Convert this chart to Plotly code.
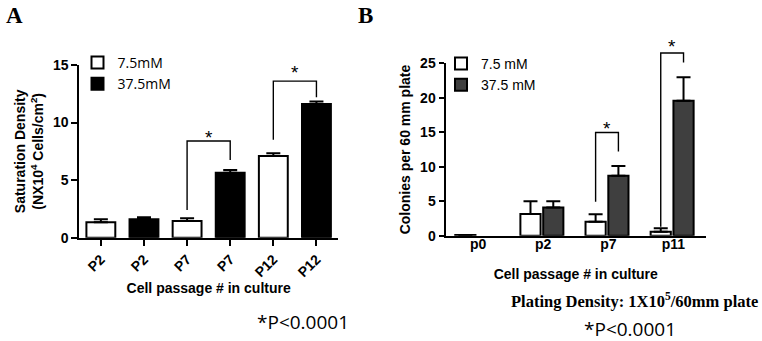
import plotly.graph_objects as go

# ---------------- Data ----------------
# Panel A: saturation density (N x 10^4 cells/cm^2)
a_positions = [0, 1, 2, 3, 4, 5]
a_ticktext = ["P2", "P2", "P7", "P7", "P12", "P12"]
a_low_x = [0, 2, 4]
a_low_vals = [1.34, 1.45, 7.10]
a_low_err = [0.26, 0.23, 0.23]
a_high_x = [1, 3, 5]
a_high_vals = [1.60, 5.65, 11.62]
a_high_err = [0.17, 0.23, 0.20]
# significance brackets (left bar, right bar, left foot, top, right foot, star height)
a_brackets = [(2, 3, 2.4, 8.4, 6.75, 8.92), (4, 5, 8.5, 13.6, 12.2, 14.55)]

# Panel B: colonies per 60 mm plate
b_categories = ["p0", "p2", "p7", "p11"]
b_low_vals = [0.1, 3.15, 2.03, 0.58]
b_low_err = [None, 1.85, 1.07, 0.49]
b_high_vals = [None, 4.10, 8.70, 19.58]
b_high_err = [None, 0.90, 1.40, 3.39]
# brackets (group index, left foot, top, right foot, star height)
b_brackets = [(2, 4.93, 14.97, 12.2, 15.8), (3, 1.3, 26.5, 25.1, 27.7)]

# ---------------- Styling constants ----------------
W, H = 762, 341
SANS = "Liberation Sans, Arial, sans-serif"
SERIF = "Liberation Serif, Times New Roman, serif"
CAL = "Open Sans, Lato, sans-serif"
B_WIDTH = 0.31
B_OFF_LOW = -0.35
B_OFF_HIGH = 0.0
B_DARK = "#3f3f3f"
STAR_SHIFT = -2


def px_x(p):
    return p / W


def px_y(p):
    return 1 - p / H


fig = go.Figure()

# ---- Panel A bars ----
fig.add_trace(go.Bar(
    x=a_low_x, y=a_low_vals, width=0.67, name="7.5mM",
    marker=dict(color="white", line=dict(color="black", width=2)),
    error_y=dict(type="data", symmetric=False, array=a_low_err,
                 arrayminus=[0] * len(a_low_err), color="black", thickness=2, width=7),
    xaxis="x", yaxis="y", legend="legend"))
fig.add_trace(go.Bar(
    x=a_high_x, y=a_high_vals, width=0.67, name="37.5mM",
    marker=dict(color="black", line=dict(color="black", width=2)),
    error_y=dict(type="data", symmetric=False, array=a_high_err,
                 arrayminus=[0] * len(a_high_err), color="black", thickness=2, width=7),
    xaxis="x", yaxis="y", legend="legend"))

for (xl, xr, yl, yt, yr, ys) in a_brackets:
    fig.add_trace(go.Scatter(x=[xl, xl, xr, xr], y=[yl, yt, yt, yr], mode="lines",
                             line=dict(color="black", width=1.4), showlegend=False,
                             hoverinfo="skip", xaxis="x", yaxis="y"))
    fig.add_annotation(x=(xl + xr) / 2, y=ys, xref="x", yref="y", text="*",
                       showarrow=False, yshift=STAR_SHIFT, xanchor="center", yanchor="middle",
                       font=dict(family=SANS, size=19, color="black"))

# ---- Panel B bars ----
b_idx = list(range(len(b_categories)))
fig.add_trace(go.Bar(
    x=b_idx, y=b_low_vals, width=B_WIDTH, offset=B_OFF_LOW, name="7.5 mM",
    marker=dict(color="white", line=dict(color="black", width=2)),
    error_y=dict(type="data", symmetric=False, array=b_low_err,
                 arrayminus=[0] * len(b_low_err), color="black", thickness=2, width=7),
    xaxis="x2", yaxis="y2", legend="legend2"))
fig.add_trace(go.Bar(
    x=b_idx, y=b_high_vals, width=B_WIDTH, offset=B_OFF_HIGH, name="37.5 mM",
    marker=dict(color=B_DARK, line=dict(color="black", width=2)),
    error_y=dict(type="data", symmetric=False, array=b_high_err,
                 arrayminus=[0] * len(b_high_err), color="black", thickness=2, width=7),
    xaxis="x2", yaxis="y2", legend="legend2"))

c_low = B_OFF_LOW + B_WIDTH / 2
c_high = B_OFF_HIGH + B_WIDTH / 2
for (g, yl, yt, yr, ys) in b_brackets:
    xl, xr = g + c_low, g + c_high
    fig.add_trace(go.Scatter(x=[xl, xl, xr, xr], y=[yl, yt, yt, yr], mode="lines",
                             line=dict(color="black", width=1.4), showlegend=False,
                             hoverinfo="skip", xaxis="x3", yaxis="y3"))
    fig.add_annotation(x=(xl + xr) / 2, y=ys, xref="x3", yref="y3", text="*",
                       showarrow=False, yshift=STAR_SHIFT, xanchor="center", yanchor="middle",
                       font=dict(family=SANS, size=19, color="black"))

# ---- Axes ----
axis_common = dict(showline=True, linecolor="black", linewidth=2, showgrid=False,
                   zeroline=False, ticks="outside", tickcolor="black", tickwidth=2,
                   automargin=False,
                   tickfont=dict(family=SANS, size=14, color="black", weight="bold"))

a_dom_x = [px_x(79.3), px_x(338)]
a_dom_y = [px_y(237.7), px_y(65)]
b_dom_x = [px_x(445.5), px_x(706)]
b_y0 = 235.7
b_ppu = (235.7 - 63.3) / 25
b_dom_y = [px_y(b_y0), px_y(63.3)]
b3_top = 29
b3_dom_y = [px_y(b_y0), px_y(b_y0 - b3_top * b_ppu)]

fig.update_layout(
    xaxis=dict(**axis_common, domain=a_dom_x, range=[-0.5, 5.5], anchor="y",
               tickvals=a_positions, ticktext=a_ticktext, tickangle=-45, ticklen=6,
               title=dict(text="Cell passage # in culture", standoff=4,
                          font=dict(family=SANS, size=14, color="black", weight="bold"))),
    yaxis=dict(**axis_common, domain=a_dom_y, range=[0, 15], anchor="x",
               tickvals=[0, 5, 10, 15], ticklen=6,
               title=dict(text="Saturation Density<br>(NX10<sup>4</sup> Cells/cm<sup>2</sup>)",
                          standoff=6,
                          font=dict(family=SANS, size=14, color="black", weight="bold"))),
    xaxis2=dict(**{k: v for k, v in axis_common.items() if k != "ticks"}, ticks="",
                domain=b_dom_x, range=[-0.5, 3.5], anchor="y2",
                tickvals=b_idx, ticktext=b_categories, ticklabelstandoff=-6,
                title=dict(text="Cell passage # in culture", standoff=19,
                           font=dict(family=SANS, size=14, color="black", weight="bold"))),
    yaxis2=dict(**axis_common, domain=b_dom_y, range=[0, 25], anchor="x2",
                tickvals=[0, 5, 10, 15, 20, 25], ticklen=5,
                title=dict(text="Colonies per 60 mm plate", standoff=6,
                           font=dict(family=SANS, size=14, color="black", weight="bold"))),
    xaxis3=dict(domain=b_dom_x, range=[-0.5, 3.5], anchor="y3", visible=False),
    yaxis3=dict(domain=b3_dom_y, range=[0, b3_top], anchor="x3", visible=False),
    barmode="overlay",
    width=W, height=H, margin=dict(l=0, r=0, t=0, b=0, autoexpand=False),
    paper_bgcolor="white", plot_bgcolor="rgba(0,0,0,0)",
    legend=dict(x=px_x(77.5), y=px_y(47), xanchor="left", yanchor="top",
                bgcolor="rgba(0,0,0,0)", font=dict(family=CAL, size=14, color="black")),
    legend2=dict(x=px_x(441), y=px_y(48), xanchor="left", yanchor="top",
                 bgcolor="rgba(0,0,0,0)", font=dict(family=SANS, size=14, color="black")),
)

# ---- Text annotations ----
def note(xp, yp, text, font):
    fig.add_annotation(x=px_x(xp), y=px_y(yp), xref="paper", yref="paper", text=text,
                       showarrow=False, xanchor="center", yanchor="middle", font=font)


note(14, 16, "A", dict(family=SERIF, size=23, color="black", weight="bold"))
note(365, 16, "B", dict(family=SERIF, size=23, color="black", weight="bold"))
note(302.5, 322, "*P<0.0001", dict(family=CAL, size=19, color="black"))
note(630, 329, "*P<0.0001", dict(family=CAL, size=19, color="black"))
note(634, 300, "Plating Density: 1X10<sup>5</sup>/60mm plate",
     dict(family=SERIF, size=16.5, color="black", weight="bold"))

fig.write_html("out.html", config={"displayModeBar": False},
               post_script="document.body.style.margin='0';")
